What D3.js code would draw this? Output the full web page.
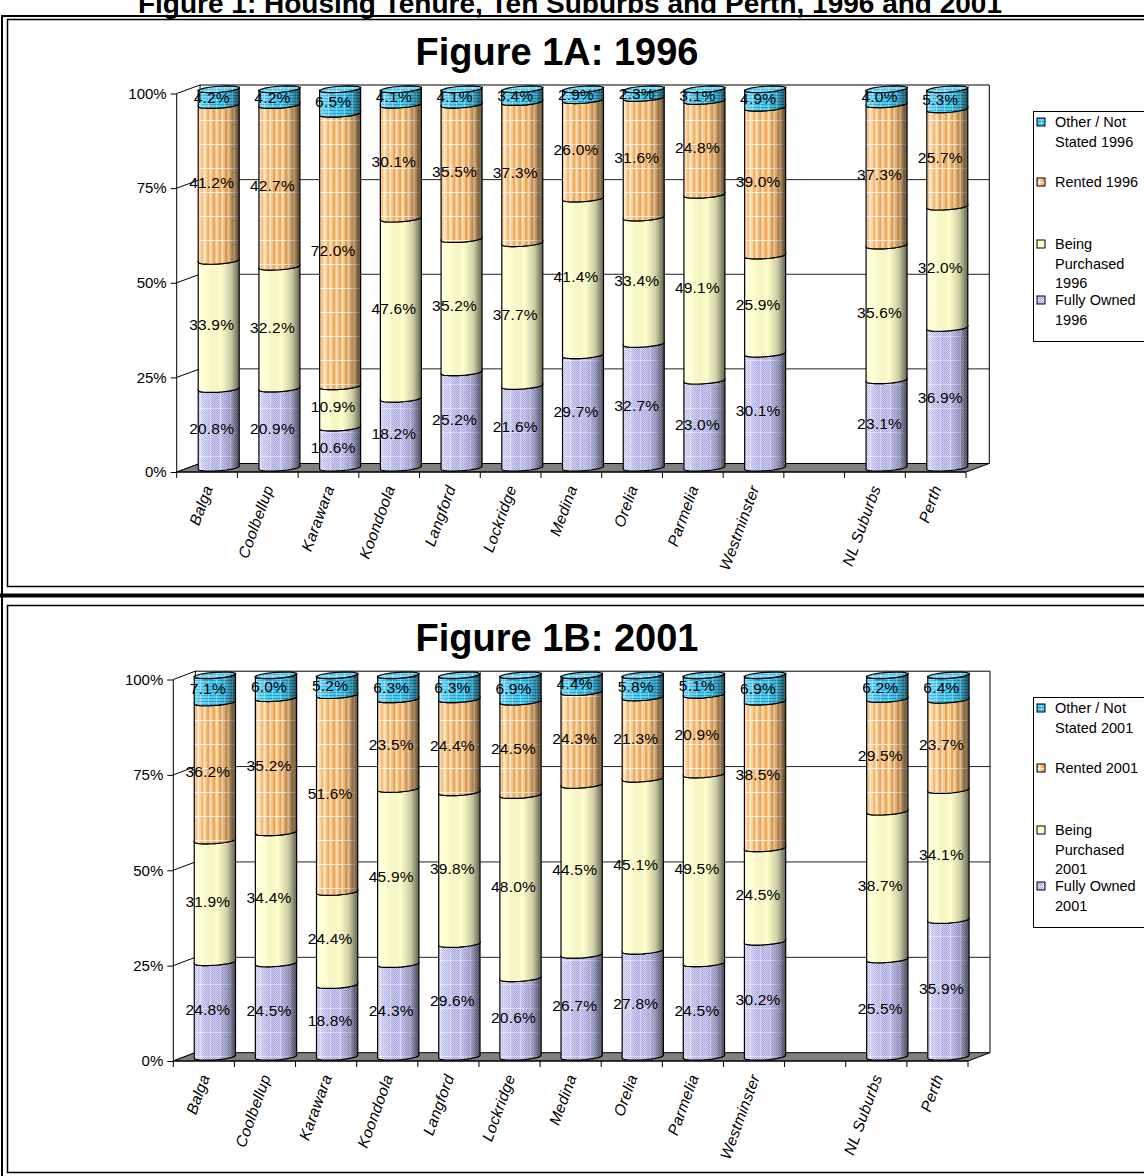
<!DOCTYPE html>
<html>
<head>
<meta charset="utf-8">
<script src="https://cdnjs.cloudflare.com/ajax/libs/d3/7.8.5/d3.min.js"></script>
<style>
  body { margin: 0; background: #fff; }
  svg { display: block; }
</style>
</head>
<body>
<div id="chart"></div>
<script>
// ---- data (blank slot between Westminster and NL Suburbs) ----
const suburbs = ['Balga', 'Coolbellup', 'Karawara', 'Koondoola', 'Langford', 'Lockridge',
  'Medina', 'Orelia', 'Parmelia', 'Westminster', ' ', 'NL Suburbs', 'Perth'];

const fullyOwned1996     = [20.8, 20.9, 10.6, 18.2, 25.2, 21.6, 29.7, 32.7, 23.0, 30.1, null, 23.1, 36.9];
const beingPurchased1996 = [33.9, 32.2, 10.9, 47.6, 35.2, 37.7, 41.4, 33.4, 49.1, 25.9, null, 35.6, 32.0];
const rented1996         = [41.2, 42.7, 72.0, 30.1, 35.5, 37.3, 26.0, 31.6, 24.8, 39.0, null, 37.3, 25.7];
const other1996          = [4.2, 4.2, 6.5, 4.1, 4.1, 3.4, 2.9, 2.3, 3.1, 4.9, null, 4.0, 5.3];

const fullyOwned2001     = [24.8, 24.5, 18.8, 24.3, 29.6, 20.6, 26.7, 27.8, 24.5, 30.2, null, 25.5, 35.9];
const beingPurchased2001 = [31.9, 34.4, 24.4, 45.9, 39.8, 48.0, 44.5, 45.1, 49.5, 24.5, null, 38.7, 34.1];
const rented2001         = [36.2, 35.2, 51.6, 23.5, 24.4, 24.5, 24.3, 21.3, 20.9, 38.5, null, 29.5, 23.7];
const other2001          = [7.1, 6.0, 5.2, 6.3, 6.3, 6.9, 4.4, 5.8, 5.1, 6.9, null, 6.2, 6.4];

const seriesKeys = ['owned', 'purchased', 'rented', 'other'];
const yTicks = [0, 0.25, 0.5, 0.75, 1];

const pageTitle = 'Figure 1: Housing Tenure, Ten Suburbs and Perth, 1996 and 2001';

const panels = [
  { title: 'Figure 1A: 1996', top: 0,
    series: [fullyOwned1996, beingPurchased1996, rented1996, other1996],
    legend: [['Other / Not', 'Stated 1996'], ['Rented 1996'], ['Being', 'Purchased', '1996'], ['Fully Owned', '1996']],
    geom: { xL: 176.7, xR: 966, y100: 93.5, y0: 472, dx: 23.3, dy: -8.5 } },
  { title: 'Figure 1B: 2001', top: 586,
    series: [fullyOwned2001, beingPurchased2001, rented2001, other2001],
    legend: [['Other / Not', 'Stated 2001'], ['Rented 2001'], ['Being', 'Purchased', '2001'], ['Fully Owned', '2001']],
    geom: { xL: 173.3, xR: 968, y100: 679.5, y0: 1061, dx: 22, dy: -8.3 } }
];

const W = 1144, H = 1176;
const font = "'Liberation Sans', Arial, sans-serif";

const svg = d3.select('#chart').append('svg')
  .attr('width', W).attr('height', H)
  .style('font-family', font);

const defs = svg.append('defs');

// --- fill patterns, one per series ---
function makePattern(id, w, h, base, extras) {
  const p = defs.append('pattern').attr('id', id)
    .attr('patternUnits', 'userSpaceOnUse').attr('width', w).attr('height', h);
  p.append('rect').attr('width', w).attr('height', h).attr('fill', base);
  extras.forEach(e => p.append('rect').attr('x', e[0]).attr('y', e[1]).attr('width', e[2]).attr('height', e[3])
    .attr('fill', e[4]).attr('opacity', e[5] == null ? 1 : e[5]));
}
makePattern('dots', 2, 2, '#d8d8ff', [[0, 0, 1, 1, '#a2a2da'], [1, 1, 1, 1, '#a8a8e0']]);
makePattern('pat-owned', 10, 24, 'url(#dots)', [[0, 0, 1, 24, '#ffffff', 0.45], [0, 0, 10, 1, '#ffffff', 0.45]]);
makePattern('pat-purchased', 10, 24, '#ffffcc', []);
makePattern('pat-rented', 6, 24, '#ffca84', [[3, 0, 2, 24, '#eeaa60'], [0, 0, 1, 24, '#ffffff', 0.6], [0, 0, 6, 1, '#ffffff', 0.8]]);
makePattern('pat-other', 8, 3, '#50d0f4', [[0, 2, 8, 1, '#22a2d0'], [0, 0, 1, 3, '#ffffff', 0.35]]);

// cylinder shading left light -> right dark
const shade = defs.append('linearGradient').attr('id', 'shade')
  .attr('x1', 0).attr('x2', 1).attr('y1', 0).attr('y2', 0);
[[0, '#fff', 0.35], [0.2, '#fff', 0.15], [0.55, '#000', 0], [0.8, '#000', 0.2], [0.92, '#000', 0.45], [1, '#000', 0.6]]
  .forEach(s => shade.append('stop').attr('offset', s[0]).attr('stop-color', s[1]).attr('stop-opacity', s[2]));

// ---- frames and page title ----
svg.append('text').attr('x', 570).attr('y', 13).attr('text-anchor', 'middle')
  .attr('font-size', 28).attr('font-weight', 'bold').text(pageTitle);
svg.append('rect').attr('x', 2).attr('y', 16).attr('width', 1200).attr('height', 1200)
  .attr('fill', 'none').attr('stroke', '#000').attr('stroke-width', 2);

svg.append('line').attr('x1', 0).attr('x2', W).attr('y1', 595.5).attr('y2', 595.5)
  .attr('stroke', '#000').attr('stroke-width', 4);

// points on an ellipse slightly tilted (front arc: t from 0 to PI)
function ellipsePts(cx, y, w, t0, t1) {
  const ry = 3, k = 0.07, n = 16, pts = [];
  for (let i = 0; i <= n; i++) {
    const t = t0 + (t1 - t0) * i / n;
    const x = cx - (w / 2) * Math.cos(t);
    pts.push([x, y + ry * Math.sin(t) - k * (x - cx)]);
  }
  return pts;
}

panels.forEach(panel => {
  const g = panel.geom;
  const top = panel.top;
  const root = svg.append('g');

  root.append('rect').attr('x', 7.5).attr('y', top + 19.5).attr('width', 1200).attr('height', 567)
    .attr('fill', '#fff').attr('stroke', '#000').attr('stroke-width', 1.5);

  root.append('text').attr('x', 557).attr('y', top + 65).attr('text-anchor', 'middle')
    .attr('font-size', 38).attr('font-weight', 'bold').text(panel.title);

  const x = d3.scaleBand().domain(suburbs).range([g.xL, g.xR]).padding(0);
  const y = d3.scaleLinear().domain([0, 1]).range([g.y0, g.y100]);

  // back wall gridlines + side wall lines
  root.append('g').selectAll('line').data(yTicks.slice(1, 4)).join('line')
    .attr('x1', g.xL + g.dx).attr('x2', g.xR + g.dx)
    .attr('y1', d => y(d) + g.dy).attr('y2', d => y(d) + g.dy)
    .attr('stroke', '#222').attr('stroke-width', 1);
  root.append('g').selectAll('line').data(yTicks).join('line')
    .attr('x1', g.xL).attr('x2', g.xL + g.dx)
    .attr('y1', d => y(d)).attr('y2', d => y(d) + g.dy)
    .attr('stroke', '#000').attr('stroke-width', 1);
  // back wall outline
  root.append('path')
    .attr('d', `M${g.xL + g.dx},${y(0) + g.dy}V${y(1) + g.dy}H${g.xR + g.dx}V${y(0) + g.dy}`)
    .attr('fill', 'none').attr('stroke', '#000').attr('stroke-width', 1);
  // floor
  root.append('path')
    .attr('d', `M${g.xL},${g.y0}H${g.xR}L${g.xR + g.dx},${g.y0 + g.dy}H${g.xL + g.dx}Z`)
    .attr('fill', '#808080').attr('stroke', '#000').attr('stroke-width', 1);

  // y axis
  const yAxis = root.append('g').attr('transform', `translate(${g.xL},0)`)
    .call(d3.axisLeft(y).tickValues(yTicks).tickSize(6).tickPadding(4).tickFormat(d3.format('.0%')));
  yAxis.select('.domain').attr('stroke', '#000').attr('d', `M0,${g.y100}V${g.y0}`);
  yAxis.selectAll('.tick line').attr('stroke', '#000');
  yAxis.selectAll('text').attr('font-size', 15).attr('font-family', font).attr('fill', '#000');

  // x axis: ticks at slot boundaries
  const bounds = d3.range(suburbs.length + 1).map(i => g.xL + i * x.step());
  root.append('g').selectAll('line').data(bounds).join('line')
    .attr('x1', d => d).attr('x2', d => d).attr('y1', g.y0).attr('y2', g.y0 + 6)
    .attr('stroke', '#000');
  root.append('line').attr('x1', g.xL).attr('x2', g.xR).attr('y1', g.y0).attr('y2', g.y0).attr('stroke', '#000');
  root.append('g').selectAll('text').data(suburbs).join('text')
    .attr('transform', d => `translate(${x(d) + x.bandwidth() / 2 + 1},${g.y0 + 14}) rotate(-70)`)
    .attr('text-anchor', 'end').attr('dy', '0.35em')
    .attr('font-size', 15.5).attr('font-style', 'italic').attr('letter-spacing', 0.3)
    .text(d => d.trim());

  // cylinders
  const bw = x.bandwidth() * 0.675;
  const labels = [];
  suburbs.forEach((name, i) => {
    const vals = panel.series.map(s => s[i]);
    if (vals[0] == null) return;
    const total = d3.sum(vals);
    const cx = x(name) + x.bandwidth() / 2 + g.dx / 2;
    let acc = 0;
    vals.forEach((v, si) => {
      const lo = acc / total, hi = (acc + v) / total;
      acc += v;
      const yLo = y(lo) + g.dy / 2, yHi = y(hi) + g.dy / 2;
      const pts = ellipsePts(cx, yHi, bw, 0, Math.PI)
        .concat(ellipsePts(cx, yLo, bw, 0, Math.PI).reverse());
      const d = 'M' + pts.map(p => p.join(',')).join('L') + 'Z';
      root.append('path').attr('d', d).attr('fill', `url(#pat-${seriesKeys[si]})`);
      root.append('path').attr('d', d).attr('fill', 'url(#shade)')
        .attr('stroke', '#000').attr('stroke-width', 1.2);
      labels.push({ x: cx - 7, y: (yLo + yHi) / 2, text: v.toFixed(1) + '%' });
      if (si === vals.length - 1) {
        const cap = ellipsePts(cx, yHi, bw, 0, 2 * Math.PI);
        const cd = 'M' + cap.map(p => p.join(',')).join('L') + 'Z';
        root.append('path').attr('d', cd).attr('fill', `url(#pat-${seriesKeys[si]})`);
        root.append('path').attr('d', cd).attr('fill', '#fff').attr('fill-opacity', 0.25)
          .attr('stroke', '#000').attr('stroke-width', 1.2);
      }
    });
  });

  root.append('g').selectAll('text').data(labels).join('text')
    .attr('x', d => d.x).attr('y', d => d.y).attr('dy', '0.35em')
    .attr('text-anchor', 'middle').attr('font-size', 15.5).attr('letter-spacing', 0.2)
    .text(d => d.text);

  // legend
  const lg = root.append('g').attr('transform', `translate(1033,${top + 111})`);
  lg.append('rect').attr('x', 0.5).attr('y', 0.5).attr('width', 200).attr('height', 230)
    .attr('fill', '#fff').attr('stroke', '#000');
  const itemTop = [11, 71, 133, 189];
  const legendKeys = ['other', 'rented', 'purchased', 'owned'];
  panel.legend.forEach((lines, li) => {
    const it = lg.append('g').attr('transform', `translate(0,${itemTop[li]})`);
    it.append('rect').attr('x', 4).attr('y', -4).attr('width', 8).attr('height', 8)
      .attr('fill', `url(#pat-${legendKeys[li]})`).attr('stroke', '#000');
    lines.forEach((t, k) => it.append('text').attr('x', 22).attr('y', k * 19.7).attr('dy', '0.35em')
      .attr('font-size', 14.5).text(t));
  });
});
</script>
</body>
</html>
